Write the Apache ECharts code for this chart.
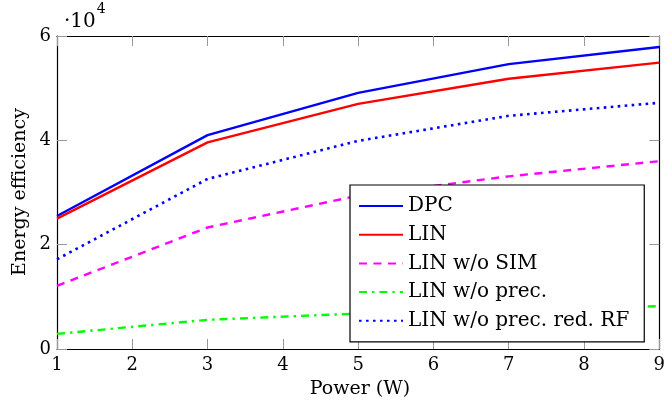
<!DOCTYPE html>
<html>
<head>
<meta charset="utf-8">
<script src="https://cdn.jsdelivr.net/npm/echarts@6/dist/echarts.min.js"></script>
<style>
  html, body { margin: 0; padding: 0; background: #fff; }
  #chart { width: 668px; height: 402px; }
</style>
</head>
<body>
<div id="chart"></div>
<script>
// Transmit power levels (W)
const power = [1, 3, 5, 7, 9];

// Energy efficiency, in units of 10^4
const dpc          = [2.55, 4.10, 4.91, 5.46, 5.79];
const lin          = [2.50, 3.96, 4.70, 5.18, 5.49];
const linNoSim     = [1.21, 2.33, 2.94, 3.31, 3.60];
const linNoPrec    = [0.29, 0.56, 0.68, 0.76, 0.82];
const linNoPrecRF  = [1.72, 3.26, 3.99, 4.47, 4.72];

const xTicks = [1, 2, 3, 4, 5, 6, 7, 8, 9];
const yTicks = [0, 2, 4, 6];

const FONT = '"DejaVu Serif", "Liberation Serif", serif';

function pairs(ys) { return power.map((p, i) => [p, ys[i]]); }

const seriesDefs = [
  { name: 'DPC', data: dpc, color: '#0000ff', type: 'solid', width: 2.4 },
  { name: 'LIN', data: lin, color: '#ff0000', type: 'solid', width: 2.4 },
  { name: 'LIN w/o SIM', data: linNoSim, color: '#ff00ff', type: [8, 6.5], width: 2.4 },
  { name: 'LIN w/o prec.', data: linNoPrec, color: '#00ff00', type: [8, 5, 2.4, 5], width: 2.4 },
  { name: 'LIN w/o prec. red. RF', data: linNoPrecRF, color: '#0000ff', type: [2.6, 4.4], width: 2.6 }
];

const chart = echarts.init(document.getElementById('chart'));

const tickStyle = { show: true, inside: true, length: 10, lineStyle: { color: '#999', width: 1 } };
const lineStyle = { show: true, onZero: false, lineStyle: { color: '#000', width: 1.2 } };

chart.setOption({
  animation: false,
  backgroundColor: '#fff',
  grid: { left: 57, right: 6, top: 36, bottom: 53 },
  xAxis: [
    {
      type: 'value', min: 1, max: 9, interval: 1, position: 'bottom',
      axisLine: lineStyle, axisTick: tickStyle, splitLine: { show: false },
      axisLabel: { color: '#000', fontFamily: FONT, fontSize: 18, margin: 7,
        formatter: v => xTicks.includes(v) ? String(v) : '' }
    },
    {
      type: 'value', min: 1, max: 9, interval: 1, position: 'top',
      axisLine: lineStyle, axisTick: tickStyle, splitLine: { show: false },
      axisLabel: { show: false }
    }
  ],
  yAxis: [
    {
      type: 'value', min: 0, max: 6, interval: 2, position: 'left',
      axisLine: lineStyle, axisTick: tickStyle, splitLine: { show: false },
      axisLabel: { color: '#000', fontFamily: FONT, fontSize: 18, margin: 6,
        formatter: v => yTicks.includes(v) ? String(v) : '' }
    },
    {
      type: 'value', min: 0, max: 6, interval: 2, position: 'right',
      axisLine: lineStyle, axisTick: tickStyle, splitLine: { show: false },
      axisLabel: { show: false }
    }
  ],
  legend: {
    orient: 'vertical',
    left: 350, top: 185,
    padding: [11, 15, 11, 8],
    itemWidth: 44, itemHeight: 20, itemGap: 8.7,
    backgroundColor: '#fff',
    borderColor: '#000', borderWidth: 1.2, borderRadius: 0,
    itemStyle: { opacity: 0 },
    textStyle: { color: '#000', fontFamily: FONT, fontSize: 20, lineHeight: 20 },
    data: seriesDefs.map(s => s.name)
  },
  series: seriesDefs.map(s => ({
    name: s.name,
    type: 'line',
    data: pairs(s.data),
    symbol: 'none',
    color: s.color,
    lineStyle: { color: s.color, width: s.width, type: s.type, cap: 'butt' },
    z: 2
  })),
  graphic: [
    {
      type: 'text', left: 64, top: 2,
      style: {
        text: '{a|·10}{b|4}',
        rich: {
          a: { fontFamily: FONT, fontSize: 20, fill: '#000', verticalAlign: 'bottom', height: 28 },
          b: { fontFamily: FONT, fontSize: 14, fill: '#000', verticalAlign: 'top', height: 28, padding: [0, 0, 13, 1] }
        }
      }
    },
    {
      type: 'text', x: 360, y: 389,
      style: { text: 'Power (W)', fontFamily: FONT, fontSize: 19, fill: '#000',
        align: 'center', verticalAlign: 'middle' }
    },
    {
      type: 'text', x: 20, y: 192, rotation: Math.PI / 2,
      style: { text: 'Energy efficiency', fontFamily: FONT, fontSize: 19, fill: '#000',
        align: 'center', verticalAlign: 'middle' }
    }
  ]
});
</script>
</body>
</html>
